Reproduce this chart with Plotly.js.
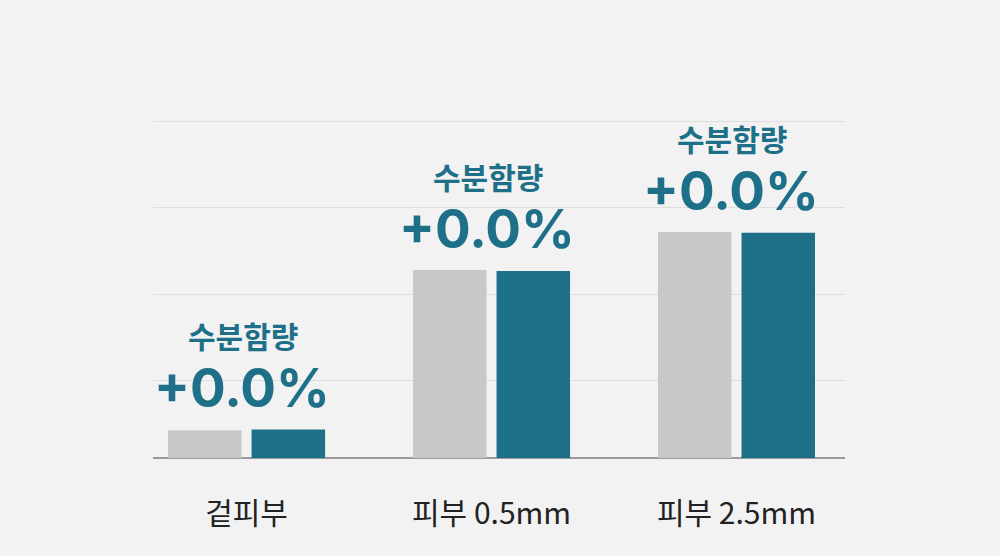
<!DOCTYPE html>
<html><head><meta charset="utf-8">
<script src="https://cdn.plot.ly/plotly-3.0.1.min.js"></script>
<style>html,body{margin:0;padding:0;background:#f2f2f2;}#chart{width:1000px;height:556px;}</style>
</head><body><div id="chart"></div>
<script>
const categories = ["겉피부", "피부 0.5mm", "피부 2.5mm"];
const seriesBefore = [3.2, 21.7, 26.1];
const seriesAfter = [3.3, 21.6, 26.0];
const labelTitle = ["수분함량", "수분함량", "수분함량"];
const labelValue = ["+0.0%", "+0.0%", "+0.0%"];

const GRAY = "#c8c8c8", TEAL = "#1e7088";
const traces = [
  {type: "bar", x: categories, y: seriesBefore, marker: {color: GRAY}, hoverinfo: "skip"},
  {type: "bar", x: categories, y: seriesAfter, marker: {color: TEAL}, hoverinfo: "skip"}
];
const annotations = [];
categories.forEach((c, i) => {
  const top = Math.max(seriesBefore[i], seriesAfter[i]);
  annotations.push({x: c, y: top, xref: "x", yref: "y", text: labelValue[i], showarrow: false,
    yanchor: "middle", yshift: 41, xshift: -5,
    font: {family: "Inter, 'Noto Sans CJK KR', sans-serif", size: 53, color: TEAL, weight: 700}});
  annotations.push({x: c, y: top, xref: "x", yref: "y", text: labelTitle[i], showarrow: false,
    yanchor: "middle", yshift: 94, xshift: -4,
    font: {family: "'Noto Sans CJK KR', sans-serif", size: 30, color: TEAL, weight: 700}});
});
const layout = {
  width: 1000, height: 556,
  paper_bgcolor: "#f2f2f2", plot_bgcolor: "#f2f2f2",
  margin: {l: 153, r: 155, t: 80, b: 98},
  showlegend: false,
  barmode: "group", bargap: 0.318, bargroupgap: 0.12,
  xaxis: {type: "category", range: [-0.382, 2.443], showgrid: false, zeroline: false, showline: false,
    ticks: "", ticklabelstandoff: 35,
    tickfont: {family: "'Noto Sans CJK KR', sans-serif", size: 30, color: "#222222"}},
  yaxis: {range: [0, 43.65], tick0: 8.9, dtick: 10, showticklabels: false, ticks: "",
    showgrid: true, gridcolor: "#dedede", gridwidth: 1,
    zeroline: true, zerolinecolor: "#9a9a9a", zerolinewidth: 2, fixedrange: true},
  annotations: annotations
};
Plotly.newPlot("chart", traces, layout, {displayModeBar: false, staticPlot: true});
</script></body></html>
